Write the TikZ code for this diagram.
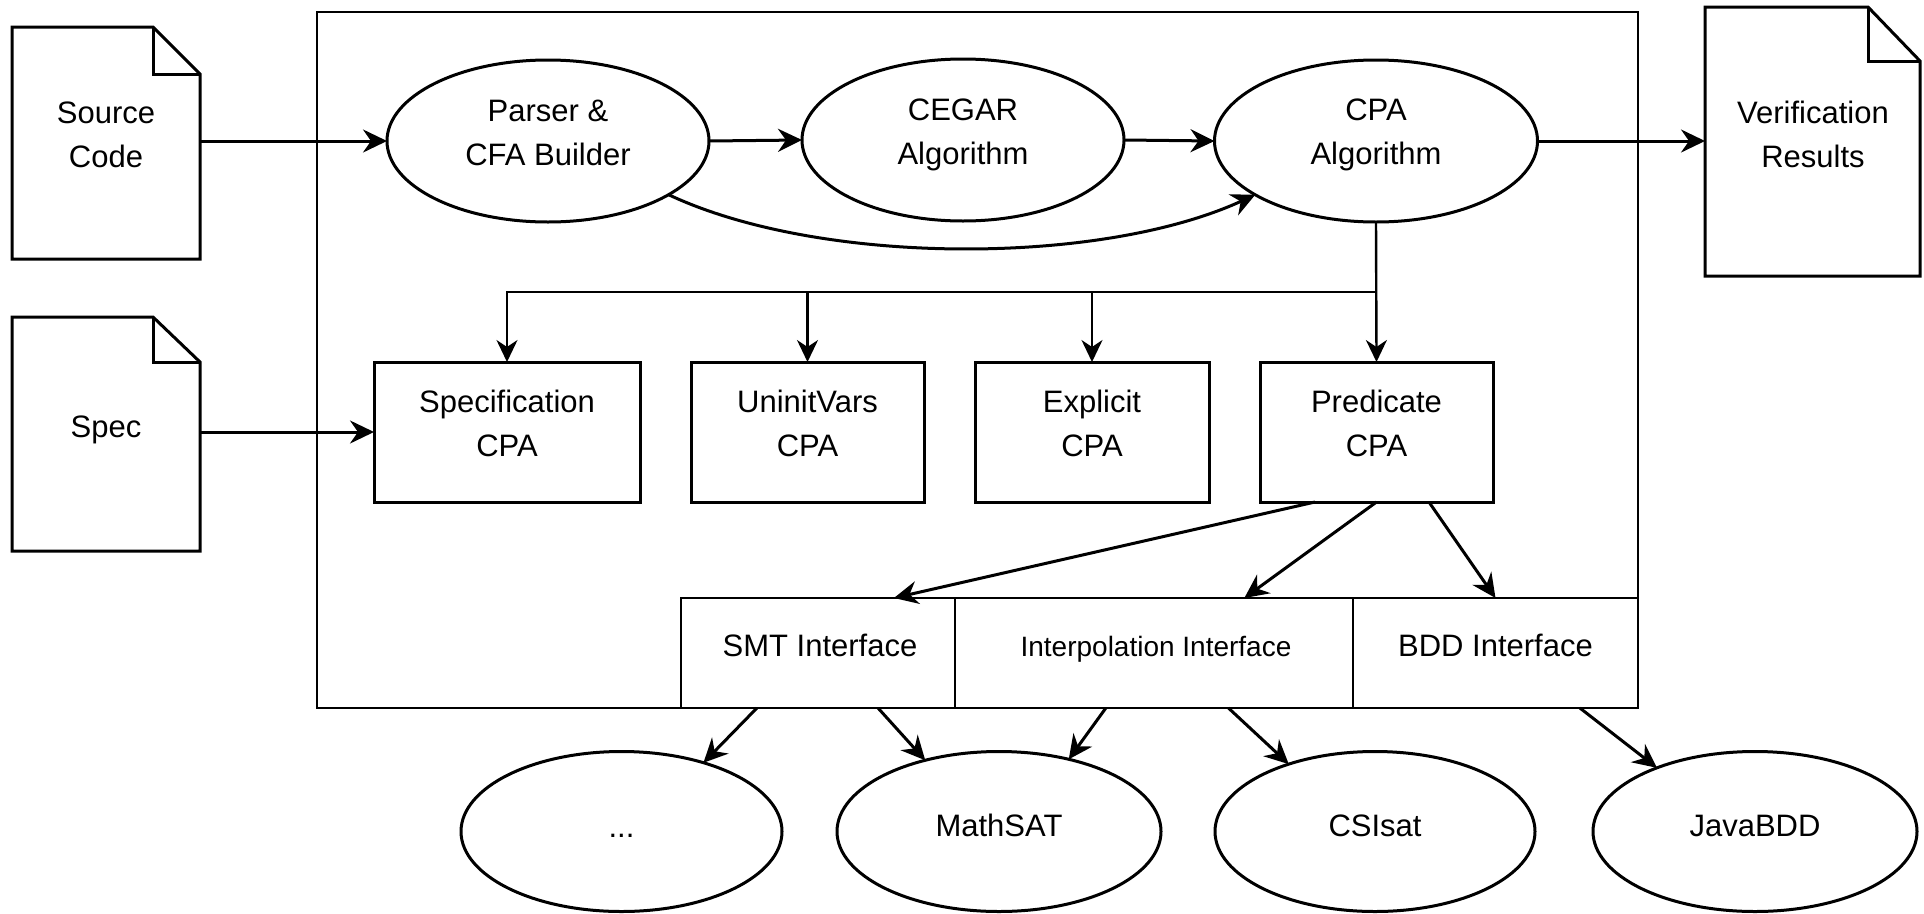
\documentclass[tikz,border=0pt]{standalone}
\usepackage{fontspec}
\setmainfont{Liberation Sans}
\usetikzlibrary{arrows.meta,shapes.geometric,calc}
\begin{document}
\begin{tikzpicture}[x=1pt,y=-1pt,line join=miter,
  shp/.style={draw=black,line width=3pt,fill=white,outer sep=0pt,inner sep=0pt},
  frm/.style={draw=black,line width=2.6pt,outer sep=0pt,inner sep=0pt,rectangle},
  ell/.style={shp,ellipse,minimum height=162pt},
  bell/.style={shp,ellipse,minimum height=160pt},
  box/.style={shp,rectangle,minimum height=140pt},
  ibox/.style={draw=black,line width=2.4pt,rectangle,outer sep=0pt,inner sep=0pt,minimum height=110pt},
  docn/.style={rectangle,draw=none,outer sep=0pt,inner sep=0pt},
  docline/.style={draw=black,line width=3pt,fill=white},
  lbl/.style={font=\fontsize{31}{44}\selectfont,align=center,inner sep=0pt,outer sep=0pt},
  slbl/.style={font=\fontsize{28}{40}\selectfont,align=center,inner sep=0pt,outer sep=0pt},
  arr/.style={line width=3pt,-{Stealth[length=24pt,width=23pt,inset=8pt]}},
  tarr/.style={line width=2.4pt,-{Stealth[length=22pt,width=21pt,inset=7pt]}},
  bus/.style={line width=2.4pt}]
\useasboundingbox[fill=white] (0,0) rectangle (1924,913);

% container
\node[frm,minimum width=1321pt,minimum height=696pt] (frame) at (977.5,360) {};

% documents
\node[docn,minimum width=188pt,minimum height=232pt] (src) at (106,143) {};
\draw[docline] (src.south west) -- (src.north west) -- ++(141,0) -- ++(47,47) -- (src.south east) -- cycle;
\draw[docline,fill=none] ($(src.north east)+(-47,0)$) |- ($(src.north east)+(0,47)$);
\node[lbl] (srcT) at (106,134.5) {Source\\Code};

\node[docn,minimum width=188pt,minimum height=234pt] (specdoc) at (106,434) {};
\draw[docline] (specdoc.south west) -- (specdoc.north west) -- ++(141,0) -- ++(47,45) -- (specdoc.south east) -- cycle;
\draw[docline,fill=none] ($(specdoc.north east)+(-47,0)$) |- ($(specdoc.north east)+(0,45)$);
\node[lbl,anchor=base] (specdocT) at (106,437) {Spec};

\node[docn,minimum width=215pt,minimum height=269pt] (ver) at (1812.5,141.5) {};
\draw[docline] (ver.south west) -- (ver.north west) -- ++(163,0) -- ++(52,54) -- (ver.south east) -- cycle;
\draw[docline,fill=none] ($(ver.north east)+(-52,0)$) |- ($(ver.north east)+(0,54)$);
\node[lbl] (verT) at (1813,134) {Verification\\Results};

% top ellipses
\node[ell,minimum width=322pt] (parser) at (548,141) {};
\node[lbl] (parserT) at (548,132.5) {Parser \&\\CFA Builder};
\node[ell,minimum width=322pt] (cegar) at (963,140) {};
\node[lbl] (cegarT) at (963,134.5) {CEGAR\\Algorithm};
\node[ell,minimum width=323pt] (cpa) at (1376,141) {};
\node[lbl] (cpaT) at (1376,134.5) {CPA\\Algorithm};

% CPA boxes
\node[box,minimum width=266pt] (speccpa) at (507,432) {};
\node[lbl] (speccpaT) at (507,423.5) {Specification\\CPA};
\node[box,minimum width=233pt] (uninit) at (807.5,432) {};
\node[lbl] (uninitT) at (807.5,423.5) {UninitVars\\CPA};
\node[box,minimum width=234pt] (explicit) at (1092,432) {};
\node[lbl] (explicitT) at (1092,423.5) {Explicit\\CPA};
\node[box,minimum width=233pt] (pred) at (1376.5,432) {};
\node[lbl] (predT) at (1376.5,423.5) {Predicate\\CPA};

% interfaces
\node[ibox,minimum width=274pt] (smt) at (818,653) {};
\node[lbl,anchor=base] (smtT) at (820,656) {SMT Interface};
\node[ibox,minimum width=398pt] (interp) at (1154,653) {};
\node[slbl,anchor=base] (interpT) at (1156,656) {Interpolation Interface};
\node[ibox,minimum width=285pt] (bdd) at (1495.5,653) {};
\node[lbl,anchor=base] (bddT) at (1495.5,656) {BDD Interface};

% bottom ellipses
\node[bell,minimum width=321pt] (dots) at (621.5,831.5) {};
\node[lbl,anchor=base] (dotsT) at (621.5,837) {...};
\node[bell,minimum width=324pt] (math) at (999,831.5) {};
\node[lbl,anchor=base] (mathT) at (999,836) {MathSAT};
\node[bell,minimum width=320pt] (csi) at (1375,831.5) {};
\node[lbl,anchor=base] (csiT) at (1375,836) {CSIsat};
\node[bell,minimum width=324pt] (java) at (1755,831.5) {};
\node[lbl,anchor=base] (javaT) at (1755,836) {JavaBDD};

% top connectors
\draw[arr] (src.east |- parser.west) -- (parser.west);
\draw[arr] (parser.east) -- (cegar.west);
\draw[arr] (cegar.east) -- (cpa.west);
\draw[arr] (cpa.east) -- (ver.west |- cpa.east);
\draw[arr] (parser.-24.6) .. controls (820,266) and (1100,266) .. (cpa.-156.5);
\draw[arr] (specdoc.east |- speccpa.west) -- (speccpa.west);

% bus
\coordinate (busR) at ($(cpa.south)!0.5!(pred.north)$);
\draw[tarr] (cpa.south) -- (pred.north);
\draw[tarr,bus] (busR) -| (speccpa.north);
\draw[tarr] (uninit.north |- busR) -- (uninit.north);
\draw[tarr] (explicit.north |- busR) -- (explicit.north);

% predicate to interfaces
\draw[arr] ($(pred.south west)!0.236!(pred.south east)$) -- ($(smt.north west)!0.777!(smt.north east)$);
\draw[arr] (pred.south) -- ($(interp.north west)!0.727!(interp.north east)$);
\draw[arr] ($(pred.south west)!0.725!(pred.south east)$) -- (bdd.north);

% interfaces to solvers
\draw[arr] ($(smt.south west)!0.277!(smt.south east)$) -- (dots.40);
\draw[arr] ($(smt.south west)!0.719!(smt.south east)$) -- (math.136);
\draw[arr] ($(interp.south west)!0.379!(interp.south east)$) -- (math.46);
\draw[arr] ($(interp.south west)!0.687!(interp.south east)$) -- (csi.142);
\draw[arr] ($(bdd.south west)!0.796!(bdd.south east)$) -- (java.147);
\end{tikzpicture}
\end{document}
